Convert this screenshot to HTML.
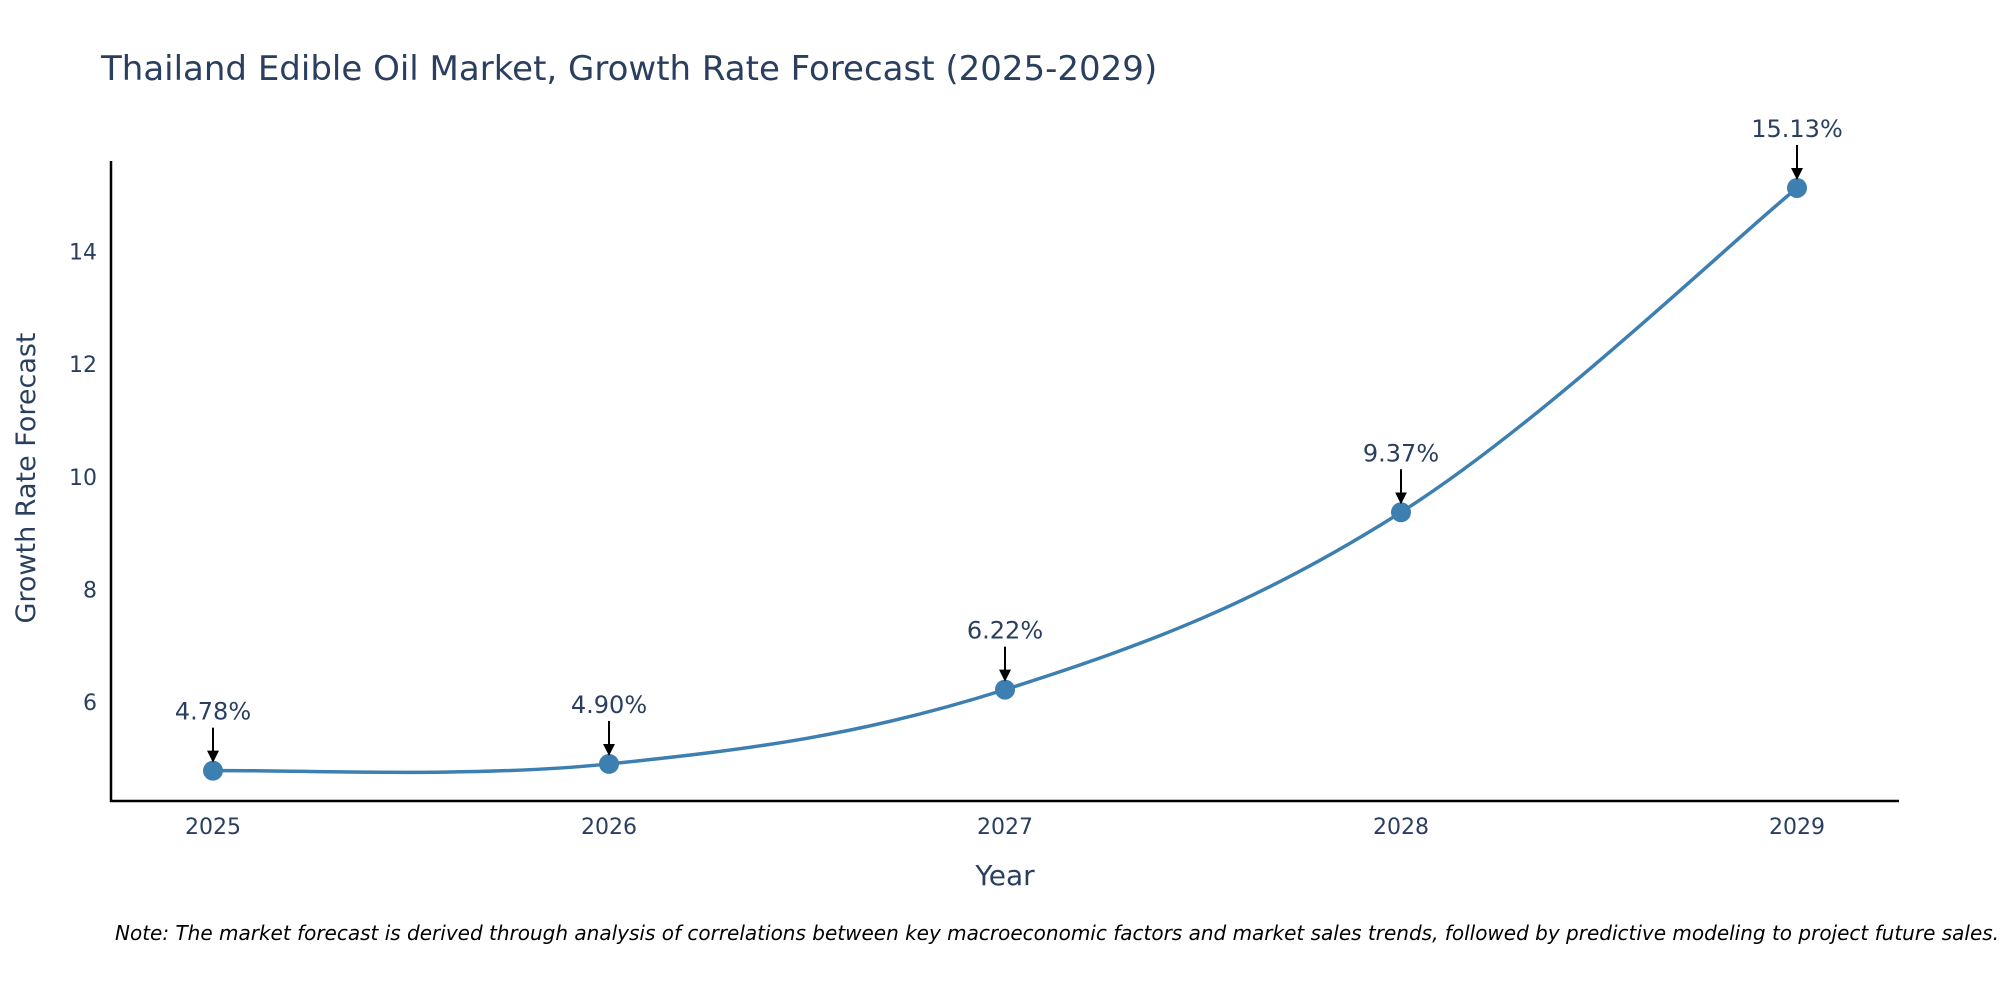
<!DOCTYPE html>
<html><head><meta charset="utf-8"><style>
body{margin:0;background:#fff;}
svg{display:block;font-family:"DejaVu Sans","Liberation Sans",sans-serif;}
</style></head><body>
<svg id="chart" width="2000" height="1000">
<text x="101" y="80" font-size="34" fill="#2a3f5f">Thailand Edible Oil Market, Growth Rate Forecast (2025-2029)</text>
<g id="yticks"></g>
<g id="xticks"></g>
<line x1="111" y1="161" x2="111" y2="802" stroke="#000" stroke-width="2.5"/>
<line x1="110" y1="801" x2="1899" y2="801" stroke="#000" stroke-width="2.5"/>
<g id="series"></g>
<text x="1005" y="885" font-size="28" fill="#2a3f5f" text-anchor="middle">Year</text>
<text x="0" y="0" font-size="27" fill="#2a3f5f" text-anchor="middle" transform="translate(35,478) rotate(-90)">Growth Rate Forecast</text>
<text x="115" y="940" font-size="20" font-style="italic" fill="#000">Note: The market forecast is derived through analysis of correlations between key macroeconomic factors and market sales trends, followed by predictive modeling to project future sales.</text>
</svg>
<script>
const categories = ["2025","2026","2027","2028","2029"];
const values = [4.78, 4.90, 6.22, 9.37, 15.13];
const labels = ["4.78%","4.90%","6.22%","9.37%","15.13%"];
const yTicks = [6, 8, 10, 12, 14];

const NS = "http://www.w3.org/2000/svg";
const xPos = i => 213 + i * (1797 - 213) / (categories.length - 1);
const yPos = v => 702 - (v - 6) * 56.3;
function mk(tag, attrs, parent){const e=document.createElementNS(NS,tag);for(const k in attrs)e.setAttribute(k,attrs[k]);parent.appendChild(e);return e;}

const yg = document.getElementById("yticks");
yTicks.forEach(t=>{
  const e = mk("text",{x:97,y:yPos(t)+8,"font-size":22,fill:"#2a3f5f","text-anchor":"end"},yg);
  
  
  e.textContent = t;
});
const xg = document.getElementById("xticks");
categories.forEach((c,i)=>{
  const e = mk("text",{x:xPos(i),y:834,"font-size":22,fill:"#2a3f5f","text-anchor":"middle"},xg);
  
  
  e.textContent = c;
});

const sg = document.getElementById("series");
const pts = values.map((v,i)=>[xPos(i), yPos(v)]);
let d = "M"+pts[0][0]+","+pts[0][1];
const s = 0.18;
for(let i=0;i<pts.length-1;i++){
  const p0 = pts[Math.max(i-1,0)], p1 = pts[i], p2 = pts[i+1], p3 = pts[Math.min(i+2,pts.length-1)];
  const c1 = [p1[0]+(p2[0]-p0[0])*s, p1[1]+(p2[1]-p0[1])*s];
  const c2 = [p2[0]-(p3[0]-p1[0])*s, p2[1]-(p3[1]-p1[1])*s];
  d += " C"+c1+" "+c2+" "+p2;
}
const line = mk("path",{d:d,fill:"none",stroke:"#3d7fb0","stroke-width":3.5},sg);



mk("defs",{},sg).innerHTML='<marker id="ah" markerWidth="6" markerHeight="6" refX="5" refY="3" orient="auto" markerUnits="strokeWidth"><path d="M0,0 L6,3 L0,6 z" fill="#000"/></marker>';

pts.forEach((p,i)=>{
  const c = mk("circle",{cx:p[0],cy:p[1],r:10,fill:"#3d7fb0"},sg);
  
  
  const a = mk("line",{x1:p[0],y1:p[1]-43,x2:p[0],y2:p[1]-10,stroke:"#000","stroke-width":2,"marker-end":"url(#ah)"},sg);
  
  
  const t = mk("text",{x:p[0],y:p[1]-51,"font-size":24,fill:"#2a3f5f","text-anchor":"middle"},sg);
  
  
  t.textContent = labels[i];
});
</script>
</body></html>
